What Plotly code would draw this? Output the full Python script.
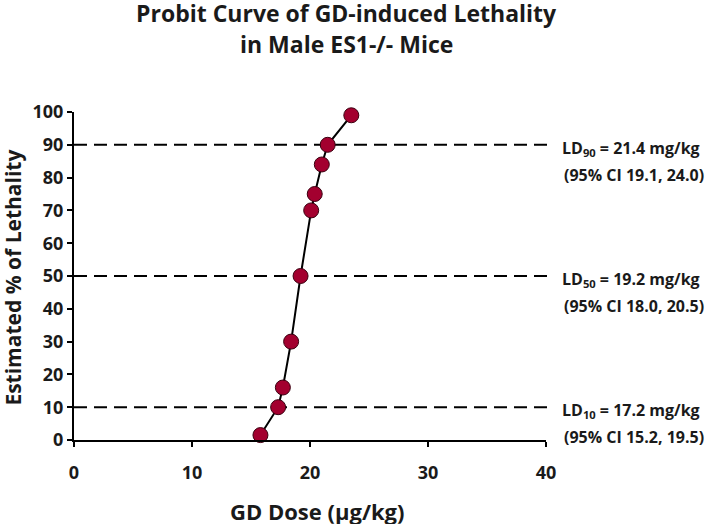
import plotly.graph_objects as go

dose = [15.8, 17.3, 17.7, 18.4, 19.2, 20.1, 20.4, 21.0, 21.5, 23.5]
lethality = [1.5, 10, 16, 30, 50, 70, 75, 84, 90, 99]

ld_levels = [90, 50, 10]
ld_labels = ["LD<sub>90</sub> = 21.4 mg/kg", "LD<sub>50</sub> = 19.2 mg/kg", "LD<sub>10</sub> = 17.2 mg/kg"]
ci_labels = ["(95% CI 19.1, 24.0)", "(95% CI 18.0, 20.5)", "(95% CI 15.2, 19.5)"]

x_ticks = [0, 10, 20, 30, 40]
y_ticks = list(range(0, 101, 10))

title_lines = ["Probit Curve of GD-induced Lethality", "in Male ES1-/- Mice"]
x_title = "GD Dose (µg/kg)"
y_title = "Estimated % of Lethality"

FONT = "Open Sans"
TXT = "#1a1a1a"

fig = go.Figure()
fig.add_trace(go.Scatter(
    x=dose, y=lethality, mode="lines+markers",
    line=dict(color="black", width=2),
    marker=dict(size=15, color="#A3002F", line=dict(color="#3a0010", width=1)),
    cliponaxis=False, showlegend=False,
))

shapes = []
annotations = []
for lvl, lab, ci in zip(ld_levels, ld_labels, ci_labels):
    shapes.append(dict(type="line", xref="paper", yref="y", x0=0, x1=1.01, y0=lvl, y1=lvl,
                       line=dict(color="black", width=2, dash="13px,7px"), layer="below"))
    annotations.append(dict(x=1.331, y=lvl - 1.0, xref="paper", yref="y", xanchor="right", yanchor="middle",
                            text=lab, showarrow=False,
                            font=dict(family=FONT, size=16, color=TXT, weight="bold")))
    annotations.append(dict(x=1.339, y=lvl - 9.2, xref="paper", yref="y", xanchor="right", yanchor="middle",
                            text=ci, showarrow=False,
                            font=dict(family=FONT, size=16, color=TXT, weight="bold")))

# titles as annotations
annotations.append(dict(x=0.577, y=1.303, xref="paper", yref="paper", xanchor="center", yanchor="middle",
                        text=title_lines[0], showarrow=False,
                        font=dict(family=FONT, size=23, color=TXT, weight="bold")))
annotations.append(dict(x=0.577, y=1.206, xref="paper", yref="paper", xanchor="center", yanchor="middle",
                        text=title_lines[1], showarrow=False,
                        font=dict(family=FONT, size=23, color=TXT, weight="bold")))
annotations.append(dict(x=0.515, y=-0.2165, xref="paper", yref="paper", xanchor="center", yanchor="middle",
                        text=x_title, showarrow=False,
                        font=dict(family=FONT, size=22, color=TXT, weight="bold")))
annotations.append(dict(x=-0.13, y=0.494, xref="paper", yref="paper", xanchor="center", yanchor="middle",
                        text=y_title, textangle=-90, showarrow=False,
                        font=dict(family=FONT, size=21, color=TXT, weight="bold")))

fig.update_layout(
    width=709, height=524,
    margin=dict(l=74, r=163, t=112, b=84, autoexpand=False),
    paper_bgcolor="white", plot_bgcolor="white",
    font=dict(family=FONT, color=TXT),
    shapes=shapes, annotations=annotations,
)
fig.update_xaxes(range=[0, 40], tickvals=x_ticks, ticks="outside", ticklen=5, tickwidth=2,
                 tickcolor="black", showline=True, linecolor="black", linewidth=2,
                 showgrid=False, zeroline=False, automargin=False, ticklabelstandoff=10,
                 tickfont=dict(family=FONT, size=18, color=TXT, weight="bold"))
fig.update_yaxes(range=[0, 100], tickvals=y_ticks, ticks="outside", ticklen=5, tickwidth=2,
                 tickcolor="black", showline=True, linecolor="black", linewidth=2,
                 showgrid=False, zeroline=False, automargin=False,
                 tickfont=dict(family=FONT, size=18, color=TXT, weight="bold"))

# remove the default 8px page margin so the figure fills the window exactly
fig.write_html("out.html", config={"displayModeBar": False},
               post_script="document.body.style.margin='0px';")
